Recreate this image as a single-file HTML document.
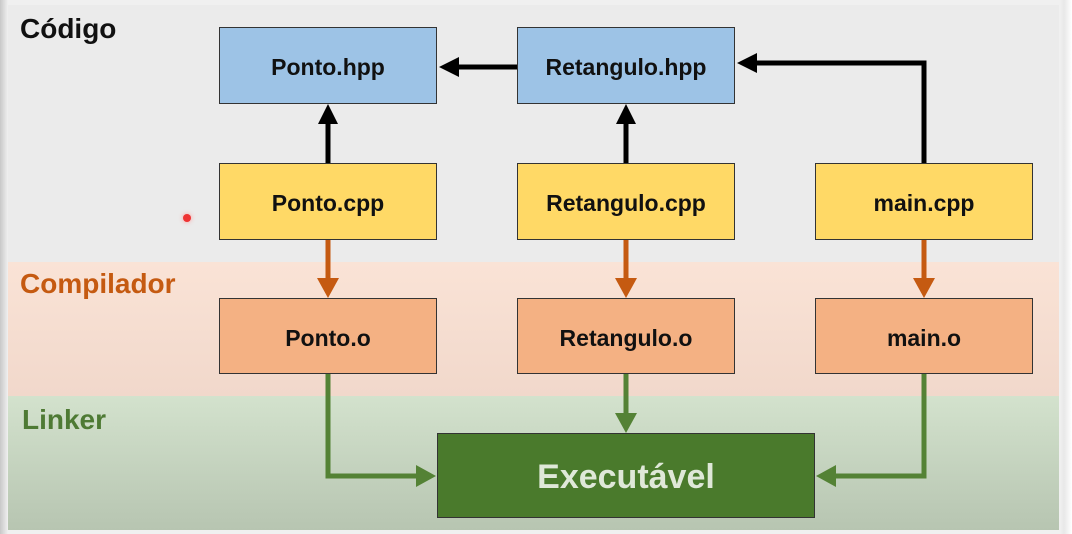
<!DOCTYPE html>
<html><head><meta charset="utf-8"><style>
body{margin:0;width:1072px;height:534px;overflow:hidden;background:linear-gradient(90deg,#c8c8c8,#f0f0f0 8px,#f0f0f0 1060px,#e8e8e8 1064px,#fff);font-family:"Liberation Sans",sans-serif;position:relative}
.b{position:absolute;left:8px;width:1051px}
.box{position:absolute;border:1.5px solid #333;box-sizing:border-box;display:flex;align-items:center;justify-content:center;font-weight:bold;font-size:23px;color:#111;padding-top:4px}
.l{position:absolute;font-weight:bold;font-size:28px}
</style></head><body>
<div class="b" style="top:5px;height:257px;background:#ebebeb"></div>
<div class="b" style="top:262px;height:134px;background:linear-gradient(#fae3d6,#f1d8cb)"></div>
<div class="b" style="top:396px;height:134px;background:linear-gradient(#d3e2cd,#b7c5b1)"></div>
<div class="l" style="left:20px;top:13px;color:#111">Código</div>
<div class="l" style="left:20px;top:268px;color:#c55a11">Compilador</div>
<div class="l" style="left:22px;top:404px;color:#4e7a34">Linker</div>
<div class="box" style="left:219px;top:27px;width:218px;height:77px;background:#9dc3e6">Ponto.hpp</div>
<div class="box" style="left:517px;top:27px;width:218px;height:77px;background:#9dc3e6">Retangulo.hpp</div>
<div class="box" style="left:219px;top:163px;width:218px;height:77px;background:#ffd966">Ponto.cpp</div>
<div class="box" style="left:517px;top:163px;width:218px;height:77px;background:#ffd966">Retangulo.cpp</div>
<div class="box" style="left:815px;top:163px;width:218px;height:77px;background:#ffd966">main.cpp</div>
<div class="box" style="left:219px;top:298px;width:218px;height:76px;background:#f4b183">Ponto.o</div>
<div class="box" style="left:517px;top:298px;width:218px;height:76px;background:#f4b183">Retangulo.o</div>
<div class="box" style="left:815px;top:298px;width:218px;height:76px;background:#f4b183">main.o</div>
<div class="box" style="left:437px;top:433px;width:378px;height:85px;background:#4a7a2c;color:#dfe8d8;font-size:34px">Executável</div>
<svg width="1072" height="534" style="position:absolute;left:0;top:0">
<g fill="none" stroke-width="5">
<path d="M328 163V122M626 163V122M924 163V63H755M517 67H457" stroke="#000"/>
<path d="M328 240V280M626 240V280M924 240V280" stroke="#c55a11"/>
<path d="M328 374V476H418M626 374V415M924 374V476H834" stroke="#548235"/>
</g>
<path d="M318 124L328 104L338 124ZM616 124L626 104L636 124ZM757 53L737 63L757 73ZM459 57L439 67L459 77Z" fill="#000"/>
<path d="M317 278L328 298L339 278ZM615 278L626 298L637 278ZM913 278L924 298L935 278Z" fill="#c55a11"/>
<path d="M416 465L436 476L416 487ZM615 413L626 433L637 413ZM836 465L816 476L836 487Z" fill="#548235"/>
</svg>
<div style="position:absolute;left:183px;top:214px;width:8px;height:8px;border-radius:50%;background:#e33;box-shadow:0 0 5px #f99"></div>
</body></html>
